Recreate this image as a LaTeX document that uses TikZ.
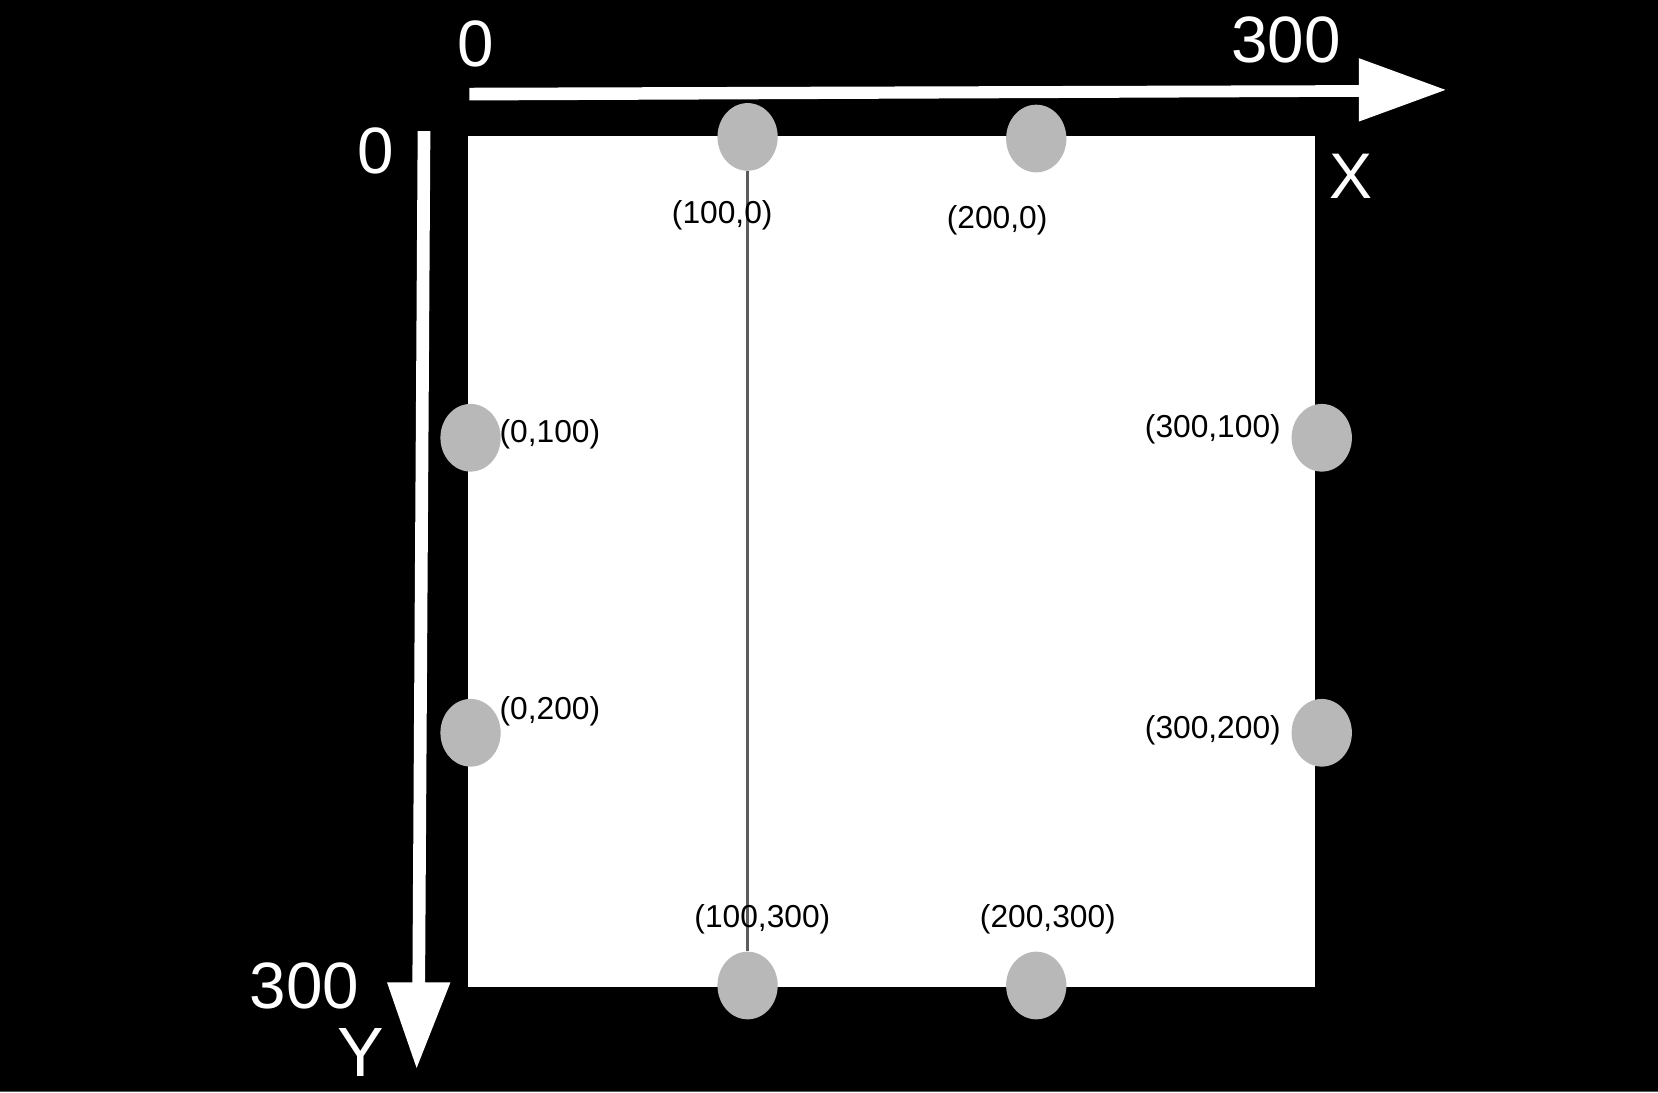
\documentclass[tikz,border=0pt]{standalone}
\usepackage{fontspec}
\setmainfont{Liberation Sans}
\usetikzlibrary{shapes.geometric}
\definecolor{dotgray}{HTML}{B8B8B8}
\definecolor{linegray}{HTML}{5C5C5C}
\tikzset{
  dot/.style={ellipse, fill=dotgray, draw=none, minimum width=57pt, minimum height=64pt, inner sep=0pt},
  lbl/.style={inner sep=0pt, text=black, font=\fontsize{30}{34}\selectfont},
  biglbl/.style={inner sep=0pt, text=white, font=\fontsize{62}{70}\selectfont},
  axisarrow/.style={fill=white, draw=none}
}
\begin{document}
\begin{tikzpicture}[x=1pt,y=-1pt]
\useasboundingbox (0,0) rectangle (1568,1033);
\fill[black] (0,0) rectangle (1568,1033);
\draw[linegray, line width=1.5pt] (0,1032.2) -- (1568,1032.2);
% white board
\fill[white] (443,129) rectangle (1244,933);
% dots
\node[dot] (p100a) at (707,129.5) {};
\node[dot] (p200a) at (980,131) {};
\node[dot] (p0a) at (445,414) {};
\node[dot] (p0b) at (445,693) {};
\node[dot] (p300a) at (1250,414) {};
\node[dot] (p300b) at (1250,693) {};
\node[dot] (p100b) at (707,932) {};
\node[dot] (p200b) at (980,932) {};
% vertical line
\draw[linegray, line width=2.2pt] (p100a) -- (p100b);
% labels
\node[lbl] (l100a) at (683,204) {(100,0)};
\node[lbl] (l200a) at (943,208) {(200,0)};
\node[lbl] (l0a) at (520,411) {(0,100)};
\node[lbl] (l0b) at (520,673) {(0,200)};
\node[lbl] (l300a) at (1147,406) {(300,100)};
\node[lbl] (l300b) at (1147,691) {(300,200)};
\node[lbl] (l100b) at (721,869) {(100,300)};
\node[lbl] (l200b) at (991,869) {(200,300)};
% axes
\coordinate (xs1) at (444,83);
\coordinate (xs2) at (1285,80.5);
\coordinate (xh1) at (1285,55);
\coordinate (xtip) at (1367,85);
\coordinate (xh2) at (1285,115);
\coordinate (xs3) at (1285,91.5);
\coordinate (xs4) at (444,95);
\fill[axisarrow] (xs1) -- (xs2) -- (xh1) -- (xtip) -- (xh2) -- (xs3) -- (xs4) -- cycle;
\coordinate (ys1) at (395,124);
\coordinate (ys2) at (407,124);
\coordinate (ys3) at (402,929);
\coordinate (yh1) at (426,929);
\coordinate (ytip) at (394,1010);
\coordinate (yh2) at (366,929);
\coordinate (ys4) at (390,929);
\fill[axisarrow] (ys1) -- (ys2) -- (ys3) -- (yh1) -- (ytip) -- (yh2) -- (ys4) -- cycle;
% axis labels
\node[biglbl] (x0) at (450,42) {0};
\node[biglbl] (x300) at (1216,38) {300};
\node[biglbl] (y0) at (355,143) {0};
\node[biglbl] (y300) at (288,932) {300};
\node[biglbl, font=\fontsize{61}{68}\selectfont] (xname) at (1278,167) {X};
\node[biglbl, font=\fontsize{66}{74}\selectfont, anchor=north] (yname) at (341,972) {Y};
\end{tikzpicture}
\end{document}
